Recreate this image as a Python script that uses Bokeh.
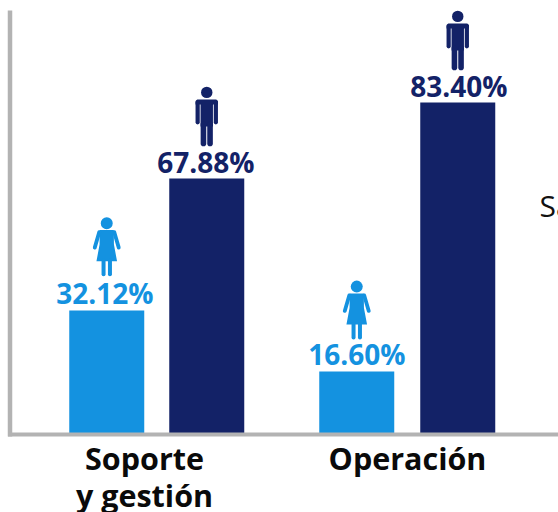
from bokeh.plotting import figure
from bokeh.models import Range1d
from bokeh.core.properties import value
from bokeh.embed import file_html
from bokeh.resources import INLINE

category_lines = [["Soporte", "y gestión"], ["Operación"]]
share_labels = ["32.12%", "67.88%", "16.60%", "83.40%"]
bar_heights = [32.6, 67.4, 16.6, 87.4]
cut_off_text = "Sa"

LIGHT = "#1492e0"
DARK = "#132267"
GREY = "#b3b3b3"
FONT = value("Open Sans")

W, H = 558, 512
BASE = 434          # page y of the baseline
K = 3.8             # px per percentage unit

p = figure(width=W, height=H, output_backend="svg", toolbar_location=None,
           x_range=Range1d(0, W), y_range=Range1d((BASE - H) / K, BASE / K),
           min_border=0, x_axis_type=None, y_axis_type=None, outline_line_color=None)
p.grid.visible = False
p.background_fill_color = None
p.border_fill_color = None

centers = [106.25, 206.25, 356.25, 457.25]
colors = [LIGHT, DARK, LIGHT, DARK]
label_nudge = [-2, -1, 0, 1]
icon_lift = [0, 0, -2.5, 0]
p.vbar(x=centers, top=bar_heights, width=75, bottom=0, color=colors, line_width=0)

# axis lines
p.line([9.5, 9.5], [(BASE - 10) / K, -2 / K], line_color=GREY, line_width=4.5)
p.line([7.5, W], [0, 0], line_color=GREY, line_width=4)

def py(top, off):
    return top + off / K

for cx, top, lab, col, nudge, lift in zip(centers, bar_heights, share_labels, colors, label_nudge, icon_lift):
    p.text([cx], [top], text=[lab], x_offset=nudge, y_offset=-17.4 if col == LIGHT else -15.9, text_color=col,
           text_align="center", text_baseline="middle", text_font=FONT,
           text_font_style="bold", text_font_size="28px")
    top = top + lift / K
    if col == DARK:
        p.scatter([cx], [py(top, 86)], size=11.4, color=col, line_width=0)
        p.patch([cx - 9.5, cx + 9.5, cx + 11.2, cx + 11.2, cx + 6.2, cx + 6.2, cx - 6.2, cx - 6.2, cx - 11.2, cx - 11.2],
                [py(top, 79), py(top, 79), py(top, 77.5), py(top, 74), py(top, 74), py(top, 52),
                 py(top, 52), py(top, 74), py(top, 74), py(top, 77.5)],
                color=col, line_width=0)
        p.multi_line([[cx - 9.1, cx - 9.1], [cx + 9.1, cx + 9.1]],
                     [[py(top, 76), py(top, 56.1)], [py(top, 76), py(top, 56.1)]],
                     line_color=col, line_width=4.2, line_cap="round")
        p.multi_line([[cx - 3.3, cx - 3.3], [cx + 3.3, cx + 3.3]],
                     [[py(top, 54), py(top, 35)], [py(top, 54), py(top, 35)]],
                     line_color=col, line_width=5.6, line_cap="round")
    else:
        p.scatter([cx], [py(top, 87.3)], size=12, color=col, line_width=0)
        p.patch([cx - 7, cx + 7, cx + 7.2, cx + 10.3, cx - 10.3, cx - 7.2],
                [py(top, 80.5), py(top, 80.5), py(top, 66), py(top, 49.3), py(top, 49.3), py(top, 66)],
                color=col, line_width=0)
        p.multi_line([[cx - 7.5, cx - 12], [cx + 7.5, cx + 12]],
                     [[py(top, 78.5), py(top, 63)], [py(top, 78.5), py(top, 63)]],
                     line_color=col, line_width=3.8, line_cap="round")
        p.multi_line([[cx - 3.2, cx - 3.2], [cx + 3.2, cx + 3.2]],
                     [[py(top, 50), py(top, 36.3)], [py(top, 50), py(top, 36.3)]],
                     line_color=col, line_width=4, line_cap="round")

label_x = [144, 407]
for x, lines in zip(label_x, category_lines):
    for i, line in enumerate(lines):
        p.text([x], [(BASE - (457.2 + 37 * i)) / K], text=[line], text_font=FONT,
               text_font_style="bold", text_font_size="30.5px", text_color="#0a0a0a",
               text_align="center", text_baseline="middle")

p.text([539], [(BASE - 205.4) / K], text=[cut_off_text], text_font=FONT, text_font_size="30px",
       text_color="#111111", text_align="left", text_baseline="middle")

open("out.html", "w").write(file_html(p, INLINE))
